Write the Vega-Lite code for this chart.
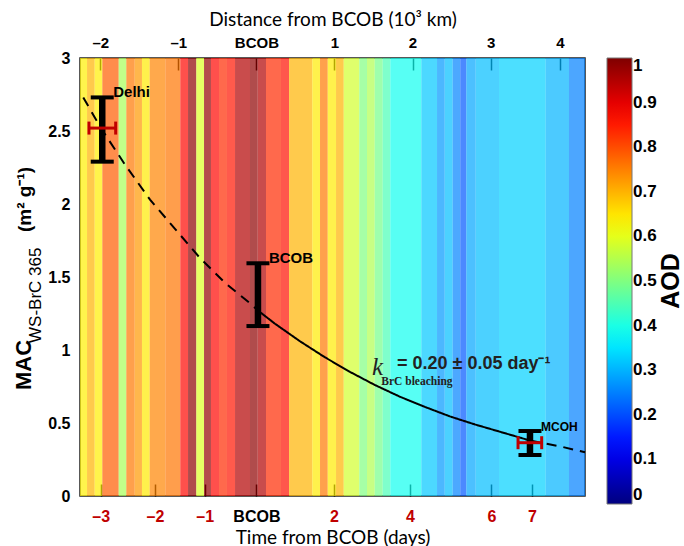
{
  "$schema": "https://vega.github.io/schema/vega-lite/v6.json",
  "width": 505,
  "height": 438,
  "autosize": {"type": "none"},
  "padding": {"left": 80, "top": 58, "right": 99, "bottom": 50},
  "background": "white",
  "config": {
    "view": {"stroke": "#222", "strokeWidth": 1.5},
    "axis": {"grid": false, "domain": false, "tickColor": "black", "labelColor": "black", "titleColor": "black", "labelOverlap": false, "labelFlush": false}
  },
  "datasets": {
    "stripes": [
      {"x0": -2.26, "x1": -2.17, "aod": 0.64},
      {"x0": -2.17, "x1": -2.072, "aod": 0.70},
      {"x0": -2.072, "x1": -1.974, "aod": 0.64},
      {"x0": -1.974, "x1": -1.764, "aod": 0.785},
      {"x0": -1.764, "x1": -1.667, "aod": 0.54},
      {"x0": -1.667, "x1": -1.559, "aod": 0.757},
      {"x0": -1.559, "x1": -1.466, "aod": 0.725},
      {"x0": -1.466, "x1": -1.367, "aod": 0.645},
      {"x0": -1.367, "x1": -1.167, "aod": 0.745},
      {"x0": -1.167, "x1": -0.975, "aod": 0.76},
      {"x0": -0.975, "x1": -0.876, "aod": 0.87},
      {"x0": -0.876, "x1": -0.770, "aod": 0.985},
      {"x0": -0.770, "x1": -0.671, "aod": 0.59},
      {"x0": -0.671, "x1": -0.582, "aod": 0.98},
      {"x0": -0.582, "x1": -0.479, "aod": 0.87},
      {"x0": -0.479, "x1": -0.377, "aod": 0.835},
      {"x0": -0.377, "x1": -0.274, "aod": 0.855},
      {"x0": -0.274, "x1": -0.082, "aod": 0.95},
      {"x0": -0.082, "x1": 0.017, "aod": 0.985},
      {"x0": 0.017, "x1": 0.123, "aod": 0.95},
      {"x0": 0.123, "x1": 0.315, "aod": 0.835},
      {"x0": 0.315, "x1": 0.418, "aod": 0.86},
      {"x0": 0.418, "x1": 0.716, "aod": 0.70},
      {"x0": 0.716, "x1": 0.815, "aod": 0.645},
      {"x0": 0.815, "x1": 0.914, "aod": 0.757},
      {"x0": 0.914, "x1": 1.020, "aod": 0.645},
      {"x0": 1.020, "x1": 1.119, "aod": 0.70},
      {"x0": 1.119, "x1": 1.318, "aod": 0.58},
      {"x0": 1.318, "x1": 1.417, "aod": 0.50},
      {"x0": 1.417, "x1": 1.516, "aod": 0.547},
      {"x0": 1.516, "x1": 1.618, "aod": 0.49},
      {"x0": 1.618, "x1": 1.716, "aod": 0.447},
      {"x0": 1.716, "x1": 2.113, "aod": 0.39},
      {"x0": 2.113, "x1": 2.314, "aod": 0.32},
      {"x0": 2.314, "x1": 2.413, "aod": 0.275},
      {"x0": 2.413, "x1": 2.515, "aod": 0.31},
      {"x0": 2.515, "x1": 2.612, "aod": 0.253},
      {"x0": 2.612, "x1": 2.689, "aod": 0.21},
      {"x0": 2.689, "x1": 2.810, "aod": 0.287},
      {"x0": 2.810, "x1": 3.108, "aod": 0.31},
      {"x0": 3.108, "x1": 3.707, "aod": 0.33},
      {"x0": 3.707, "x1": 4.005, "aod": 0.30},
      {"x0": 4.005, "x1": 4.21, "aod": 0.25}
    ],
    "curve": [
      {"d": -2.218, "mac": 2.73, "seg": "left", "style": "dashed"},
      {"d": -2.004, "mac": 2.53, "seg": "left", "style": "dashed"},
      {"d": -1.684, "mac": 2.27, "seg": "left", "style": "dashed"},
      {"d": -1.363, "mac": 2.03, "seg": "left", "style": "dashed"},
      {"d": -1.043, "mac": 1.83, "seg": "left", "style": "dashed"},
      {"d": -0.723, "mac": 1.63, "seg": "left", "style": "dashed"},
      {"d": -0.402, "mac": 1.46, "seg": "left", "style": "dashed"},
      {"d": -0.082, "mac": 1.32, "seg": "left", "style": "dashed"},
      {"d": 0.021, "mac": 1.27, "seg": "left", "style": "dashed"},
      {"d": 0.021, "mac": 1.27, "seg": "mid", "style": "solid"},
      {"d": 0.238, "mac": 1.18, "seg": "mid", "style": "solid"},
      {"d": 0.558, "mac": 1.06, "seg": "mid", "style": "solid"},
      {"d": 0.878, "mac": 0.95, "seg": "mid", "style": "solid"},
      {"d": 1.199, "mac": 0.85, "seg": "mid", "style": "solid"},
      {"d": 1.519, "mac": 0.76, "seg": "mid", "style": "solid"},
      {"d": 1.839, "mac": 0.68, "seg": "mid", "style": "solid"},
      {"d": 2.160, "mac": 0.61, "seg": "mid", "style": "solid"},
      {"d": 2.480, "mac": 0.545, "seg": "mid", "style": "solid"},
      {"d": 2.800, "mac": 0.49, "seg": "mid", "style": "solid"},
      {"d": 3.121, "mac": 0.44, "seg": "mid", "style": "solid"},
      {"d": 3.377, "mac": 0.40, "seg": "mid", "style": "solid"},
      {"d": 3.505, "mac": 0.38, "seg": "mid", "style": "solid"},
      {"d": 3.505, "mac": 0.38, "seg": "right", "style": "dashed"},
      {"d": 3.890, "mac": 0.34, "seg": "right", "style": "dashed"},
      {"d": 4.21, "mac": 0.30, "seg": "right", "style": "dashed"}
    ],
    "sites": [
      {"site": "Delhi", "d": -1.975, "lo": 2.29, "hi": 2.73, "mac": 2.52, "tlo": -2.145, "thi": -1.803},
      {"site": "BCOB", "d": 0.02, "lo": 1.164, "hi": 1.594, "mac": null, "tlo": null, "thi": null},
      {"site": "MCOH", "d": 3.505, "lo": 0.281, "hi": 0.445, "mac": 0.365, "tlo": 3.352, "thi": 3.655}
    ],
    "one": [{}]
  },
  "resolve": {"axis": {"x": "independent"}},
  "layer": [
    {
      "data": {"name": "stripes"},
      "mark": {"type": "rect", "fillOpacity": 0.7},
      "encoding": {
        "x": {"field": "x0", "type": "quantitative",
          "scale": {"domain": [-2.26, 4.21], "nice": false, "zero": false},
          "axis": {"orient": "top", "title": "Distance from BCOB (10³ km)",
            "values": [-2, -1, 0, 1, 2, 3, 3.89],
            "labelExpr": "datum.value < -1.5 ? '–2' : datum.value < -0.5 ? '–1' : datum.value < 0.5 ? 'BCOB' : datum.value < 1.5 ? '1' : datum.value < 2.5 ? '2' : datum.value < 3.5 ? '3' : '4'",
            "tickSize": -12, "tickWidth": 1.5, "labelPadding": 20,
            "labelFont": "Liberation Sans", "labelFontSize": 15, "labelFontWeight": "bold",
            "titleFont": "Lato", "titleFontSize": 19, "titleFontWeight": "normal", "titlePadding": 6}},
        "x2": {"field": "x1"},
        "y": {"datum": 0, "type": "quantitative",
          "scale": {"domain": [0, 3], "nice": false, "zero": false},
          "axis": {"title": null, "values": [0, 0.5, 1, 1.5, 2, 2.5, 3], "format": "~g", "ticks": false,
            "labelPadding": 10, "labelFont": "Liberation Sans", "labelFontSize": 16, "labelFontWeight": "bold"}},
        "y2": {"datum": 3},
        "color": {"field": "aod", "type": "quantitative",
          "scale": {"domain": [0, 0.125, 0.375, 0.625, 0.875, 1],
            "range": ["#00007f", "#0000ff", "#00ffff", "#ffff00", "#ff0000", "#7f0000"], "interpolate": "rgb"},
          "legend": {"title": "AOD", "orient": "right", "offset": 18, "padding": 0,
            "values": [0, 0.1, 0.2, 0.3, 0.4, 0.5, 0.6, 0.7, 0.8, 0.9, 1], "format": ".1~f",
            "gradientLength": 446, "gradientThickness": 25, "gradientStrokeColor": "#777", "gradientStrokeWidth": 1,
            "labelFont": "Liberation Sans", "labelFontSize": 17, "labelFontWeight": "bold", "labelColor": "black", "labelOffset": 1, "labelOverlap": false,
            "titleOrient": "right", "titleFont": "Liberation Sans", "titleFontSize": 25, "titleFontWeight": "bold", "titleColor": "black", "titlePadding": 27,
            "encode": {"title": {"update": {"angle": {"value": 270}}}, "gradient": {"update": {"opacity": {"value": 1}, "fillOpacity": {"value": 1}}}}}}
      }
    },
    {
      "data": {"name": "curve"},
      "mark": {"type": "line", "color": "black", "strokeWidth": 2},
      "encoding": {
        "x": {"field": "d", "type": "quantitative",
          "axis": {"orient": "bottom", "title": "Time from BCOB (days)",
            "values": [-1.995, -1.299, -0.662, 0, 0.994, 1.968, 3.01, 3.531],
            "labelExpr": "datum.value < -1.6 ? '–3' : datum.value < -1 ? '–2' : datum.value < -0.3 ? '–1' : datum.value < 0.5 ? 'BCOB' : datum.value < 1.5 ? '2' : datum.value < 2.5 ? '4' : datum.value < 3.3 ? '6' : '7'",
            "labelColor": {"condition": {"test": "datum.value > -0.3 && datum.value < 0.5", "value": "black"}, "value": "#c00000"},
            "tickSize": -12, "tickWidth": 1.5, "labelPadding": 24,
            "labelFont": "Liberation Sans", "labelFontSize": 16, "labelFontWeight": "bold",
            "titleFont": "Lato", "titleFontSize": 19, "titleFontWeight": "normal", "titlePadding": 4}},
        "y": {"field": "mac", "type": "quantitative", "axis": {"title": null}},
        "detail": {"field": "seg"},
        "strokeDash": {"field": "style", "type": "nominal", "scale": {"domain": ["dashed", "solid"], "range": [[10, 7], [1, 0]]}, "legend": null}
      }
    },
    {
      "data": {"name": "sites"},
      "mark": {"type": "rule", "color": "black", "strokeWidth": 6.5},
      "encoding": {
        "x": {"field": "d", "type": "quantitative", "axis": null},
        "y": {"field": "lo", "type": "quantitative", "axis": {"title": null}},
        "y2": {"field": "hi"}
      }
    },
    {
      "data": {"name": "sites"},
      "mark": {"type": "tick", "orient": "horizontal", "color": "black", "size": 23, "thickness": 4, "opacity": 1},
      "encoding": {
        "x": {"field": "d", "type": "quantitative", "axis": null},
        "y": {"field": "lo", "type": "quantitative", "axis": {"title": null}}
      }
    },
    {
      "data": {"name": "sites"},
      "mark": {"type": "tick", "orient": "horizontal", "color": "black", "size": 23, "thickness": 4, "opacity": 1},
      "encoding": {
        "x": {"field": "d", "type": "quantitative", "axis": null},
        "y": {"field": "hi", "type": "quantitative", "axis": {"title": null}}
      }
    },
    {
      "data": {"name": "sites"},
      "transform": [{"filter": "isValid(datum.tlo)"}],
      "mark": {"type": "rule", "color": "#c00000", "strokeWidth": 3},
      "encoding": {
        "x": {"field": "tlo", "type": "quantitative", "axis": null},
        "x2": {"field": "thi"},
        "y": {"field": "mac", "type": "quantitative", "axis": {"title": null}}
      }
    },
    {
      "data": {"name": "sites"},
      "transform": [{"filter": "isValid(datum.tlo)"}],
      "mark": {"type": "tick", "orient": "vertical", "color": "#c00000", "size": 13, "thickness": 3, "opacity": 1},
      "encoding": {
        "x": {"field": "tlo", "type": "quantitative", "axis": null},
        "y": {"field": "mac", "type": "quantitative", "axis": {"title": null}}
      }
    },
    {
      "data": {"name": "sites"},
      "transform": [{"filter": "isValid(datum.tlo)"}],
      "mark": {"type": "tick", "orient": "vertical", "color": "#c00000", "size": 13, "thickness": 3, "opacity": 1},
      "encoding": {
        "x": {"field": "thi", "type": "quantitative", "axis": null},
        "y": {"field": "mac", "type": "quantitative", "axis": {"title": null}}
      }
    },
    {
      "data": {"name": "sites"},
      "mark": {"type": "text", "align": "left", "baseline": "alphabetic", "dx": 11, "dy": 0, "font": "Liberation Sans", "fontWeight": "bold", "color": "black"},
      "encoding": {
        "x": {"field": "d", "type": "quantitative", "axis": null},
        "y": {"field": "hi", "type": "quantitative", "axis": {"title": null}},
        "text": {"field": "site"},
        "size": {"condition": {"test": "datum.site == 'MCOH'", "value": 12}, "value": 15}
      }
    },
    {
      "data": {"name": "one"},
      "mark": {"type": "text", "align": "left", "baseline": "alphabetic", "font": "Liberation Serif", "fontStyle": "italic", "fontSize": 25, "color": "#222"},
      "encoding": {"x": {"datum": 1.48, "type": "quantitative", "axis": null}, "y": {"datum": 0.829, "type": "quantitative", "axis": {"title": null}}, "text": {"value": "k"}}
    },
    {
      "data": {"name": "one"},
      "mark": {"type": "text", "align": "left", "baseline": "alphabetic", "font": "Liberation Serif", "fontWeight": "bold", "fontSize": 11.5, "color": "#222"},
      "encoding": {"x": {"datum": 1.6, "type": "quantitative", "axis": null}, "y": {"datum": 0.762, "type": "quantitative", "axis": {"title": null}}, "text": {"value": "BrC bleaching"}}
    },
    {
      "data": {"name": "one"},
      "mark": {"type": "text", "align": "left", "baseline": "alphabetic", "font": "Liberation Sans", "fontWeight": "bold", "fontSize": 18, "color": "#222"},
      "encoding": {"x": {"datum": 1.801, "type": "quantitative", "axis": null}, "y": {"datum": 0.868, "type": "quantitative", "axis": {"title": null}}, "text": {"value": "= 0.20 ± 0.05 day⁻¹"}}
    },
    {
      "data": {"name": "one"},
      "mark": {"type": "text", "angle": 270, "align": "left", "baseline": "middle", "font": "Liberation Sans", "fontWeight": "bold", "fontSize": 22, "color": "black"},
      "encoding": {"x": {"datum": -2.98, "type": "quantitative", "axis": null}, "y": {"datum": 0.726, "type": "quantitative", "axis": {"title": null}}, "text": {"value": "MAC"}}
    },
    {
      "data": {"name": "one"},
      "mark": {"type": "text", "angle": 270, "align": "left", "baseline": "middle", "font": "Liberation Sans", "fontWeight": "normal", "fontSize": 17, "color": "black"},
      "encoding": {"x": {"datum": -2.824, "type": "quantitative", "axis": null}, "y": {"datum": 1.048, "type": "quantitative", "axis": {"title": null}}, "text": {"value": "WS-BrC 365"}}
    },
    {
      "data": {"name": "one"},
      "mark": {"type": "text", "angle": 270, "align": "left", "baseline": "middle", "font": "Liberation Sans", "fontWeight": "bold", "fontSize": 19, "color": "black"},
      "encoding": {"x": {"datum": -2.965, "type": "quantitative", "axis": null}, "y": {"datum": 1.808, "type": "quantitative", "axis": {"title": null}}, "text": {"value": "(m² g⁻¹)"}}
    }
  ]
}
